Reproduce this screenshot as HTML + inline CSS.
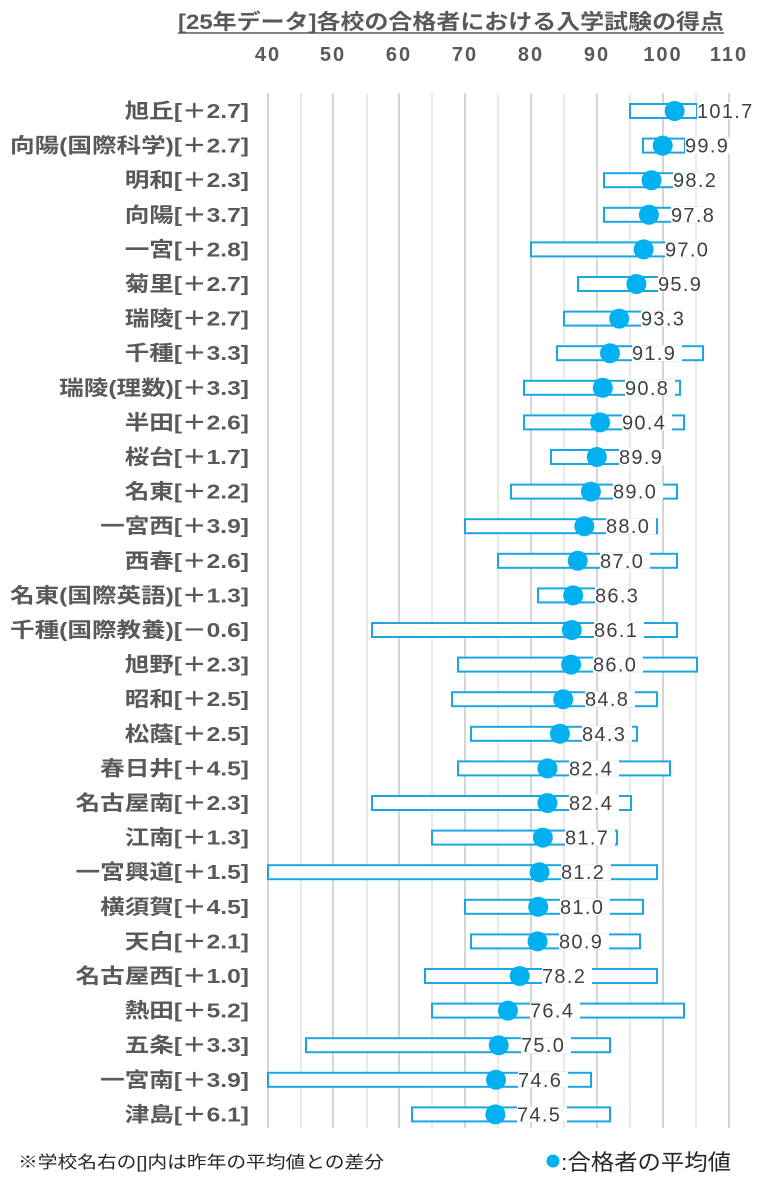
<!DOCTYPE html>
<html><head><meta charset="utf-8"><style>
html,body{margin:0;padding:0;background:#fff;}
svg{display:block;}
.yl{font-family:"Liberation Sans","Noto Sans CJK JP",sans-serif;font-weight:bold;font-size:20.5px;fill:#595959;}
.v{font-family:"Liberation Sans","Noto Sans CJK JP",sans-serif;font-size:20px;letter-spacing:1.3px;fill:#404040;}
.t{font-family:"Liberation Sans","Noto Sans CJK JP",sans-serif;font-weight:bold;font-size:20px;letter-spacing:2px;fill:#595959;}
</style></head><body>
<svg width="772" height="1200" xmlns="http://www.w3.org/2000/svg">
<text x="178" y="29" textLength="546" lengthAdjust="spacingAndGlyphs" style="font-family:'Liberation Sans','Noto Sans CJK JP',sans-serif;font-weight:bold;font-size:21px;fill:#595959">[25年データ]各校の合格者における入学試験の得点</text>
<line x1="178" y1="33" x2="724" y2="33" stroke="#595959" stroke-width="1.5"/>
<g class="t" text-anchor="middle">
<text x="268" y="61">40</text><text x="333" y="61">50</text><text x="399" y="61">60</text><text x="465" y="61">70</text><text x="531" y="61">80</text><text x="597" y="61">90</text><text x="663" y="61">100</text><text x="729" y="61">110</text>
</g>
<g stroke="#e3e3e3" stroke-width="1.5">
<line x1="301" y1="93" x2="301" y2="1128"/><line x1="367" y1="93" x2="367" y2="1128"/><line x1="432" y1="93" x2="432" y2="1128"/><line x1="498" y1="93" x2="498" y2="1128"/><line x1="564" y1="93" x2="564" y2="1128"/><line x1="630" y1="93" x2="630" y2="1128"/><line x1="696" y1="93" x2="696" y2="1128"/>
</g>
<g stroke="#c8c8c8" stroke-width="1.5">
<line x1="268" y1="93" x2="268" y2="1128"/><line x1="333" y1="93" x2="333" y2="1128"/><line x1="399" y1="93" x2="399" y2="1128"/><line x1="465" y1="93" x2="465" y2="1128"/><line x1="531" y1="93" x2="531" y2="1128"/><line x1="597" y1="93" x2="597" y2="1128"/><line x1="663" y1="93" x2="663" y2="1128"/><line x1="729" y1="93" x2="729" y2="1128"/>
</g>
<g fill="#fff" stroke="#1aa6e0" stroke-width="2">
<rect x="630" y="104" width="67" height="14"/>
<rect x="643" y="138.6" width="42" height="14"/>
<rect x="604" y="173.2" width="101" height="14"/>
<rect x="604" y="207.8" width="101" height="14"/>
<rect x="531" y="242.4" width="170" height="14"/>
<rect x="578" y="277" width="122" height="14"/>
<rect x="564" y="311.6" width="119" height="14"/>
<rect x="557" y="346.2" width="146" height="14"/>
<rect x="524" y="380.8" width="156" height="14"/>
<rect x="524" y="415.4" width="160" height="14"/>
<rect x="551" y="450" width="114" height="14"/>
<rect x="511" y="484.6" width="166" height="14"/>
<rect x="465" y="519.2" width="192" height="14"/>
<rect x="498" y="553.8" width="179" height="14"/>
<rect x="538" y="588.4" width="102" height="14"/>
<rect x="372" y="623" width="305" height="14"/>
<rect x="458" y="657.6" width="239" height="14"/>
<rect x="452" y="692.2" width="205" height="14"/>
<rect x="471" y="726.8" width="166" height="14"/>
<rect x="458" y="761.4" width="212" height="14"/>
<rect x="372" y="796" width="259" height="14"/>
<rect x="432" y="830.6" width="185" height="14"/>
<rect x="268" y="865.2" width="389" height="14"/>
<rect x="465" y="899.8" width="178" height="14"/>
<rect x="471" y="934.4" width="169" height="14"/>
<rect x="425" y="969" width="232" height="14"/>
<rect x="432" y="1003.6" width="252" height="14"/>
<rect x="306" y="1038.2" width="304" height="14"/>
<rect x="268" y="1072.8" width="323" height="14"/>
<rect x="412" y="1107.4" width="198" height="14"/>
</g>
<g fill="#fff">
<rect x="697" y="103" width="62" height="16"/>
<rect x="685" y="137.6" width="50" height="16"/>
<rect x="673" y="172.2" width="50" height="16"/>
<rect x="671" y="206.8" width="50" height="16"/>
<rect x="665" y="241.4" width="50" height="16"/>
<rect x="658" y="276" width="50" height="16"/>
<rect x="641" y="310.6" width="50" height="16"/>
<rect x="632" y="345.2" width="50" height="16"/>
<rect x="625" y="379.8" width="50" height="16"/>
<rect x="622" y="414.4" width="50" height="16"/>
<rect x="619" y="449" width="50" height="16"/>
<rect x="613" y="483.6" width="50" height="16"/>
<rect x="606" y="518.2" width="50" height="16"/>
<rect x="600" y="552.8" width="50" height="16"/>
<rect x="595" y="587.4" width="50" height="16"/>
<rect x="594" y="622" width="50" height="16"/>
<rect x="593" y="656.6" width="50" height="16"/>
<rect x="585" y="691.2" width="50" height="16"/>
<rect x="582" y="725.8" width="50" height="16"/>
<rect x="569" y="760.4" width="50" height="16"/>
<rect x="569" y="795" width="50" height="16"/>
<rect x="565" y="829.6" width="50" height="16"/>
<rect x="561" y="864.2" width="50" height="16"/>
<rect x="560" y="898.8" width="50" height="16"/>
<rect x="559" y="933.4" width="50" height="16"/>
<rect x="542" y="968" width="50" height="16"/>
<rect x="530" y="1002.6" width="50" height="16"/>
<rect x="521" y="1037.2" width="50" height="16"/>
<rect x="518" y="1071.8" width="50" height="16"/>
<rect x="517" y="1106.4" width="50" height="16"/>
</g>
<g fill="#00b0f0">
<circle cx="674.6" cy="111" r="10"/><circle cx="662.7" cy="145.6" r="10"/><circle cx="651.5" cy="180.2" r="10"/><circle cx="648.9" cy="214.8" r="10"/><circle cx="643.6" cy="249.4" r="10"/><circle cx="636.4" cy="284" r="10"/><circle cx="619.2" cy="318.6" r="10"/><circle cx="610" cy="353.2" r="10"/><circle cx="602.8" cy="387.8" r="10"/><circle cx="600.1" cy="422.4" r="10"/><circle cx="596.8" cy="457" r="10"/><circle cx="590.9" cy="491.6" r="10"/><circle cx="584.3" cy="526.2" r="10"/><circle cx="577.7" cy="560.8" r="10"/><circle cx="573.1" cy="595.4" r="10"/><circle cx="571.8" cy="630" r="10"/><circle cx="571.1" cy="664.6" r="10"/><circle cx="563.2" cy="699.2" r="10"/><circle cx="559.9" cy="733.8" r="10"/><circle cx="547.4" cy="768.4" r="10"/><circle cx="547.4" cy="803" r="10"/><circle cx="542.8" cy="837.6" r="10"/><circle cx="539.5" cy="872.2" r="10"/><circle cx="538.2" cy="906.8" r="10"/><circle cx="537.5" cy="941.4" r="10"/><circle cx="519.7" cy="976" r="10"/><circle cx="507.9" cy="1010.6" r="10"/><circle cx="498.7" cy="1045.2" r="10"/><circle cx="496" cy="1079.8" r="10"/><circle cx="495.4" cy="1114.4" r="10"/>
</g>
<g class="v">
<text x="697" y="118">101.7</text>
<text x="685" y="152.6">99.9</text>
<text x="673" y="187.2">98.2</text>
<text x="671" y="221.8">97.8</text>
<text x="665" y="256.4">97.0</text>
<text x="658" y="291">95.9</text>
<text x="641" y="325.6">93.3</text>
<text x="632" y="360.2">91.9</text>
<text x="625" y="394.8">90.8</text>
<text x="622" y="429.4">90.4</text>
<text x="619" y="464">89.9</text>
<text x="613" y="498.6">89.0</text>
<text x="606" y="533.2">88.0</text>
<text x="600" y="567.8">87.0</text>
<text x="595" y="602.4">86.3</text>
<text x="594" y="637">86.1</text>
<text x="593" y="671.6">86.0</text>
<text x="585" y="706.2">84.8</text>
<text x="582" y="740.8">84.3</text>
<text x="569" y="775.4">82.4</text>
<text x="569" y="810">82.4</text>
<text x="565" y="844.6">81.7</text>
<text x="561" y="879.2">81.2</text>
<text x="560" y="913.8">81.0</text>
<text x="559" y="948.4">80.9</text>
<text x="542" y="983">78.2</text>
<text x="530" y="1017.6">76.4</text>
<text x="521" y="1052.2">75.0</text>
<text x="518" y="1086.8">74.6</text>
<text x="517" y="1121.4">74.5</text>
</g>
<g class="yl" text-anchor="end" transform="scale(1.2,1)">
<text x="207.5" y="118">旭丘[＋2.7]</text>
<text x="207.5" y="152.6">向陽(国際科学)[＋2.7]</text>
<text x="207.5" y="187.2">明和[＋2.3]</text>
<text x="207.5" y="221.8">向陽[＋3.7]</text>
<text x="207.5" y="256.4">一宮[＋2.8]</text>
<text x="207.5" y="291">菊里[＋2.7]</text>
<text x="207.5" y="325.6">瑞陵[＋2.7]</text>
<text x="207.5" y="360.2">千種[＋3.3]</text>
<text x="207.5" y="394.8">瑞陵(理数)[＋3.3]</text>
<text x="207.5" y="429.4">半田[＋2.6]</text>
<text x="207.5" y="464">桜台[＋1.7]</text>
<text x="207.5" y="498.6">名東[＋2.2]</text>
<text x="207.5" y="533.2">一宮西[＋3.9]</text>
<text x="207.5" y="567.8">西春[＋2.6]</text>
<text x="207.5" y="602.4">名東(国際英語)[＋1.3]</text>
<text x="207.5" y="637">千種(国際教養)[－0.6]</text>
<text x="207.5" y="671.6">旭野[＋2.3]</text>
<text x="207.5" y="706.2">昭和[＋2.5]</text>
<text x="207.5" y="740.8">松蔭[＋2.5]</text>
<text x="207.5" y="775.4">春日井[＋4.5]</text>
<text x="207.5" y="810">名古屋南[＋2.3]</text>
<text x="207.5" y="844.6">江南[＋1.3]</text>
<text x="207.5" y="879.2">一宮興道[＋1.5]</text>
<text x="207.5" y="913.8">横須賀[＋4.5]</text>
<text x="207.5" y="948.4">天白[＋2.1]</text>
<text x="207.5" y="983">名古屋西[＋1.0]</text>
<text x="207.5" y="1017.6">熱田[＋5.2]</text>
<text x="207.5" y="1052.2">五条[＋3.3]</text>
<text x="207.5" y="1086.8">一宮南[＋3.9]</text>
<text x="207.5" y="1121.4">津島[＋6.1]</text>
</g>
<text x="18" y="1168" textLength="366" lengthAdjust="spacingAndGlyphs" style="font-family:'Liberation Sans','Noto Sans CJK JP',sans-serif;font-size:17px;fill:#262626">※学校名右の[]内は昨年の平均値との差分</text>
<circle cx="553" cy="1161" r="6.5" fill="#00b0f0"/>
<text x="561" y="1170" textLength="170" lengthAdjust="spacingAndGlyphs" style="font-family:'Liberation Sans','Noto Sans CJK JP',sans-serif;font-size:22px;fill:#262626">:合格者の平均値</text>
</svg>
</body></html>
